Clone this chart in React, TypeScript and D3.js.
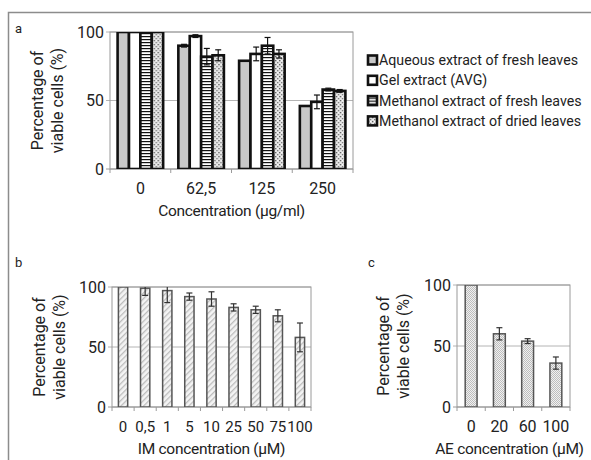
import React from 'react';
import * as d3 from 'd3';

// panel a
const concA = ['0', '62,5', '125', '250'];
const seriesNames = [
  'Aqueous extract of fresh leaves',
  'Gel extract (AVG)',
  'Methanol extract of fresh leaves',
  'Methanol extract of dried leaves',
];
const aqueousVals = [100, 90, 79, 46];
const aqueousErr = [0, 1, 0, 0];
const gelVals = [100, 97, 84, 49];
const gelErr = [0, 1, 5, 5];
const methFreshVals = [100, 82, 90, 58];
const methFreshErr = [0, 6, 6, 1];
const methDriedVals = [100, 83, 84, 57];
const methDriedErr = [0, 4, 3, 1];

// panel b
const imLabels = ['0', '0,5', '1', '5', '10', '25', '50', '75', '100'];
const imVals = [100, 99, 97, 92, 90, 83, 81, 76, 58];
const imErr = [0, 6, 10, 3, 6, 3, 3, 5, 12];

// panel c
const aeLabels = ['0', '20', '60', '100'];
const aeVals = [100, 60, 54, 36];
const aeErr = [0, 5, 2, 5];

const yTicks = [0, 50, 100];

const font = 'Roboto, "DejaVu Sans", sans-serif';
const textColor = '#222';
const gridColor = '#b4b4b4';
const frameColor = '#9a9a9a';

const seriesVals = [aqueousVals, gelVals, methFreshVals, methDriedVals];
const seriesErr = [aqueousErr, gelErr, methFreshErr, methDriedErr];
const seriesFill = ['#c8c8c8', '#ffffff', 'url(#stripes)', 'url(#dots)'];

function Panel({ id, x, y, labels, letter, letterX, letterY, titleX, xTitle, tickSize = 16, titleShift = 0, children }) {
  const [x0, x1] = x.range();
  const [y0, y1] = y.range();
  const step = x.step();
  const n = labels.length;
  const cx = (x0 + x1) / 2 + titleShift;
  const cy = (y0 + y1) / 2;
  return (
    <g>
      <clipPath id={id}>
        <rect x={x0} y={y1} width={x1 - x0} height={y0 - y1} />
      </clipPath>
      {yTicks.map((t) => (
        <g key={t}>
          <line x1={x0 - 4} x2={x1} y1={y(t)} y2={y(t)} stroke={t === 0 ? frameColor : gridColor} strokeWidth={1} />
          <text x={x0 - 6} y={y(t)} dy="0.36em" textAnchor="end" fontSize={16} fill={textColor}>{t}</text>
        </g>
      ))}
      <rect x={x0} y={y1} width={x1 - x0} height={y0 - y1} fill="none" stroke={frameColor} strokeWidth={1} />
      {d3.range(n + 1).map((i) => (
        <line key={i} x1={x0 + i * step} x2={x0 + i * step} y1={y0} y2={y0 + 4} stroke={frameColor} />
      ))}
      <g clipPath={`url(#${id})`}>{children}</g>
      {labels.map((l) => (
        <text key={l} x={x(l) + x.bandwidth() / 2} y={y0 + 24.5} textAnchor="middle" fontSize={tickSize} fill={textColor}>{l}</text>
      ))}
      <text x={cx} y={y0 + 47} textAnchor="middle" fontSize={15.5} letterSpacing={-0.3} fill={textColor}>{xTitle}</text>
      <text transform={`translate(${titleX}, ${cy}) rotate(-90)`} textAnchor="middle" fontSize={16} fill={textColor}>
        <tspan x={0} dy={0}>Percentage of</tspan>
        <tspan x={0} dy={20}>viable cells (%)</tspan>
      </text>
      <text x={letterX} y={letterY} fontSize={13} fill={textColor}>{letter}</text>
    </g>
  );
}

function ErrBar({ cx, y, v, e, color }) {
  if (!e) return null;
  return (
    <g stroke={color} strokeWidth={1.2}>
      <line x1={cx} x2={cx} y1={y(v - e)} y2={y(v + e)} />
      <line x1={cx - 3} x2={cx + 3} y1={y(v - e)} y2={y(v - e)} />
      <line x1={cx - 3} x2={cx + 3} y1={y(v + e)} y2={y(v + e)} />
    </g>
  );
}

export default function App() {
  const xA = d3.scaleBand().domain(concA).range([110, 353]).paddingInner(0.25).paddingOuter(0.125);
  const yA = d3.scaleLinear().domain([0, 100]).range([169, 32]);
  const xSub = d3.scaleBand().domain(d3.range(4).map(String)).range([0, xA.bandwidth()]);

  const xB = d3.scaleBand().domain(imLabels).range([112, 311]).paddingInner(0.58).paddingOuter(0.29);
  const yB = d3.scaleLinear().domain([0, 100]).range([407, 287]);

  const xC = d3.scaleBand().domain(aeLabels).range([457, 570]).paddingInner(0.58).paddingOuter(0.29);
  const yC = d3.scaleLinear().domain([0, 100]).range([407, 285]);

  return (
    <svg width={591} height={460} style={{ position: 'absolute', left: 0, top: 0, background: '#fff' }} fontFamily={font}>
      <defs>
        <pattern id="stripes" width={4} height={3} patternUnits="userSpaceOnUse">
          <rect width={4} height={3} fill="#fff" />
          <rect width={4} height={1.2} fill="#111" />
        </pattern>
        <pattern id="dots" width={4} height={4} patternUnits="userSpaceOnUse">
          <rect width={4} height={4} fill="#e6e6e6" />
          <rect x={0} y={0} width={1.3} height={1.3} fill="#555" />
          <rect x={2} y={2} width={1.3} height={1.3} fill="#777" />
          <rect x={2} y={0} width={1} height={1} fill="#fff" />
        </pattern>
        <pattern id="hatch" width={4} height={4} patternUnits="userSpaceOnUse" patternTransform="rotate(45)">
          <rect width={4} height={4} fill="#f4f4f4" />
          <rect width={1.3} height={4} fill="#bcbcbc" />
        </pattern>
        <pattern id="checks" width={2} height={2} patternUnits="userSpaceOnUse">
          <rect width={2} height={2} fill="#f0f0f0" />
          <rect width={1} height={1} fill="#bdbdbd" />
          <rect x={1} y={1} width={1} height={1} fill="#bdbdbd" />
        </pattern>
      </defs>

      <rect x={8.5} y={12.5} width={620} height={470} fill="none" stroke="#8c8c8c" strokeWidth={1.5} />

      <Panel id="clipA" x={xA} y={yA} labels={concA} letter="a" letterX={15} letterY={33} titleX={43} xTitle="Concentration (µg/ml)">
        {concA.map((c, i) => (
          <g key={c} transform={`translate(${xA(c)},0)`}>
            {seriesVals.map((vals, s) => (
              <rect key={s} x={xSub(String(s))} y={yA(vals[i])} width={xSub.bandwidth()} height={yA(0) - yA(vals[i])}
                fill={seriesFill[s]} stroke="#111" strokeWidth={2.6} />
            ))}
            {seriesVals.map((vals, s) => (
              <ErrBar key={s} cx={xSub(String(s)) + xSub.bandwidth() / 2} y={yA} v={vals[i]} e={seriesErr[s][i]} color="#111" />
            ))}
          </g>
        ))}
      </Panel>

      <g>
        {seriesNames.map((name, s) => (
          <g key={name} transform={`translate(368, ${60 + s * 20.3})`}>
            <rect x={0} y={-4.5} width={9} height={9} fill={seriesFill[s]} stroke="#111" strokeWidth={2.6} />
            <text x={11} y={0} dy="0.36em" fontSize={14.2} fill={textColor}>{name}</text>
          </g>
        ))}
      </g>

      <Panel id="clipB" x={xB} y={yB} labels={imLabels} letter="b" letterX={15} letterY={267} titleX={45} xTitle="IM concentration (µM)" tickSize={15}>
        {imLabels.map((l, i) => (
          <g key={l}>
            <rect x={xB(l)} y={yB(imVals[i])} width={xB.bandwidth()} height={yB(0) - yB(imVals[i])}
              fill="url(#hatch)" stroke="#555" strokeWidth={1.5} />
            <ErrBar cx={xB(l) + xB.bandwidth() / 2} y={yB} v={imVals[i]} e={imErr[i]} color="#333" />
          </g>
        ))}
      </Panel>

      <Panel id="clipC" x={xC} y={yC} labels={aeLabels} letter="c" letterX={368} letterY={267} titleX={389} xTitle="AE concentration (µM)" titleShift={-4}>
        {aeLabels.map((l, i) => (
          <g key={l}>
            <rect x={xC(l)} y={yC(aeVals[i])} width={xC.bandwidth()} height={yC(0) - yC(aeVals[i])}
              fill="url(#checks)" stroke="#555" strokeWidth={1.5} />
            <ErrBar cx={xC(l) + xC.bandwidth() / 2} y={yC} v={aeVals[i]} e={aeErr[i]} color="#333" />
          </g>
        ))}
      </Panel>
    </svg>
  );
}
